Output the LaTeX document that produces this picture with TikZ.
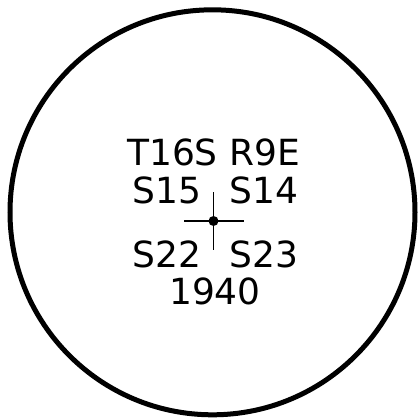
\documentclass[tikz,border=0pt]{standalone}
\usepackage{fontspec}
\setmainfont{DejaVu Sans}
\usetikzlibrary{positioning}

\begin{document}
\begin{tikzpicture}[
  x=1pt,y=-1pt,
  rim/.style={line width=5pt},
  cross/.style={line width=1.5pt},
  lbl/.style={inner sep=0pt,font=\fontsize{36}{43}\selectfont}
]
  \useasboundingbox (0,0) rectangle (418,418);
  % corner monument
  \coordinate (ctr) at (212.5,212.3);
  \coordinate (pt) at (213.5,221);
  \draw[rim] (ctr) circle[radius=202.5];
  \draw[cross] ([xshift=-29.5pt]pt) -- ([xshift=30.5pt]pt);
  \draw[cross] ([yshift=29pt]pt) -- ([yshift=-29pt]pt);
  \fill (pt) circle[radius=5];
  % township and sections
  \node[lbl,anchor=base] (twp) at (213.5,165) {T16S R9E};
  \node[lbl,anchor=base west] (s15) at (132.5,203) {S15};
  \node[lbl,anchor=base west] (s14) at (229.5,203) {S14};
  \node[lbl,anchor=base west] (s22) at (132.5,267) {S22};
  \node[lbl,anchor=base west] (s23) at (229.5,267) {S23};
  \node[lbl,anchor=base] (year) at (215,304) {1940};
\end{tikzpicture}
\end{document}
